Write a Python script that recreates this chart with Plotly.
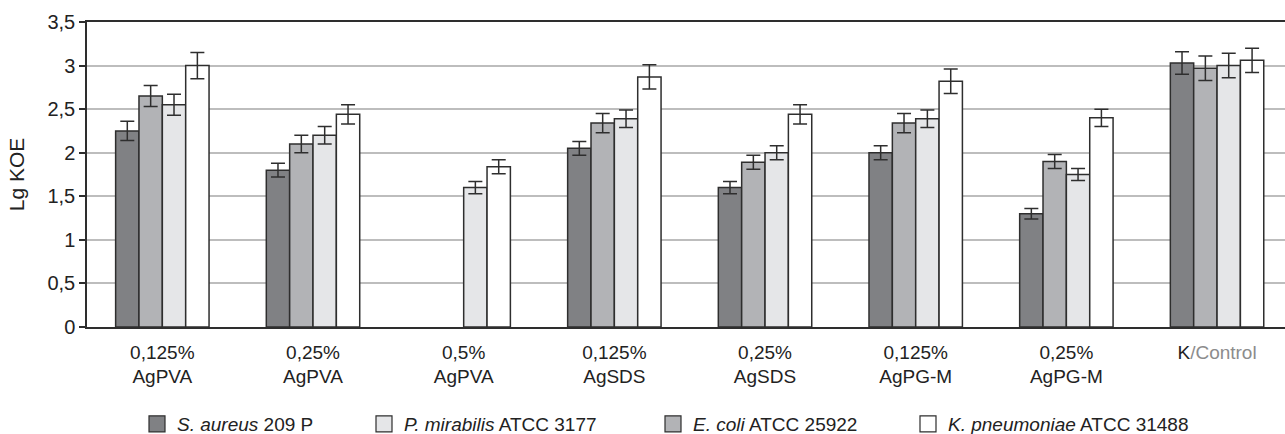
import plotly.graph_objects as go

categories = ["0,125% AgPVA", "0,25% AgPVA", "0,5% AgPVA", "0,125% AgSDS",
              "0,25% AgSDS", "0,125% AgPG-M", "0,25% AgPG-M", "K/Control"]
tick_labels = ["0,125%<br>AgPVA", "0,25%<br>AgPVA", "0,5%<br>AgPVA", "0,125%<br>AgSDS",
               "0,25%<br>AgSDS", "0,125%<br>AgPG-M", "0,25%<br>AgPG-M",
               "K<span style='color:#8c8c8c'>/Control</span>"]

s_aureus = [2.25, 1.80, None, 2.05, 1.60, 2.00, 1.30, 3.03]
e_coli = [2.65, 2.10, None, 2.34, 1.89, 2.34, 1.90, 2.97]
p_mirabilis = [2.55, 2.20, 1.60, 2.39, 2.00, 2.39, 1.75, 3.00]
k_pneumoniae = [3.00, 2.44, 1.84, 2.87, 2.44, 2.82, 2.40, 3.06]

s_aureus_err = [0.11, 0.08, 0, 0.08, 0.07, 0.08, 0.06, 0.13]
e_coli_err = [0.12, 0.10, 0, 0.11, 0.08, 0.11, 0.08, 0.14]
p_mirabilis_err = [0.12, 0.10, 0.07, 0.10, 0.08, 0.10, 0.07, 0.14]
k_pneumoniae_err = [0.15, 0.11, 0.08, 0.14, 0.11, 0.14, 0.10, 0.14]

y_ticks = [0, 0.5, 1, 1.5, 2, 2.5, 3, 3.5]
y_tick_labels = ["0", "0,5", "1", "1,5", "2", "2,5", "3", "3,5"]

names = {
    "sa": "<i>S. aureus</i> 209 P",
    "pm": "<i>P. mirabilis</i> ATCC 3177",
    "ec": "<i>E. coli</i> ATCC 25922",
    "kp": "<i>K. pneumoniae</i> ATCC 31488",
}
colors = {"sa": "#808184", "ec": "#b2b3b6", "pm": "#e5e6e8", "kp": "#ffffff"}
edge = "#2e2e2e"
FONT = "Liberation Sans, Arial, sans-serif"
W, H = 1285, 434

fig = go.Figure()
for key, vals, errs in [("sa", s_aureus, s_aureus_err), ("ec", e_coli, e_coli_err),
                        ("pm", p_mirabilis, p_mirabilis_err), ("kp", k_pneumoniae, k_pneumoniae_err)]:
    fig.add_trace(go.Bar(
        x=categories, y=vals, name=names[key], showlegend=False,
        marker=dict(color=colors[key], line=dict(color=edge, width=1.5)),
        error_y=dict(type="data", array=errs, visible=True, color=edge, thickness=1.5, width=7),
    ))

# legend entries, one small legend each, in the reference order
legend_order = ["sa", "pm", "ec", "kp"]
legend_left_px = [137, 364, 653, 908]
legend_ids = ["legend", "legend2", "legend3", "legend4"]
for key, lid in zip(legend_order, legend_ids):
    fig.add_trace(go.Scatter(
        x=[None], y=[None], mode="markers", name=names[key], legend=lid,
        marker=dict(symbol="square", size=16, color=colors[key], line=dict(color=edge, width=1.2)),
    ))

legend_layout = {}
for lid, px in zip(legend_ids, legend_left_px):
    legend_layout[lid] = dict(
        orientation="h", xref="container", yref="container",
        x=px / W, xanchor="left", y=1 - 424 / H, yanchor="middle",
        font=dict(size=19, color="#222222"), itemsizing="trace",
        bgcolor="rgba(0,0,0,0)",
    )

fig.update_layout(
    width=W, height=H,
    margin=dict(l=87, r=0, t=22, b=107, autoexpand=False),
    paper_bgcolor="white", plot_bgcolor="white",
    font=dict(family=FONT, size=19, color="#222222"),
    barmode="group", bargap=0.38, bargroupgap=0,
    showlegend=True,
    xaxis=dict(range=[-0.5, 7.451], tickvals=categories, ticktext=tick_labels,
               showline=True, linecolor=edge, linewidth=1.5, mirror=True,
               ticks="", showgrid=False, tickfont=dict(size=19), ticklabelstandoff=7),
    yaxis=dict(range=[0, 3.5], tickvals=y_ticks, ticktext=y_tick_labels,
               showline=True, linecolor=edge, linewidth=1.5,
               ticks="outside", ticklen=6, tickwidth=1.5, tickcolor=edge,
               showgrid=True, gridcolor="#bdbdbd", gridwidth=1.5, zeroline=False,
               ticklabelstandoff=0, tickfont=dict(size=20),
               title=dict(text="Lg KOE", font=dict(size=21), standoff=17)),
    **legend_layout,
)

# remove the browser's default 8px page margin so the figure fills the window exactly
fig.write_html("out.html", config={"displayModeBar": False},
               post_script="document.body.style.margin='0';")
